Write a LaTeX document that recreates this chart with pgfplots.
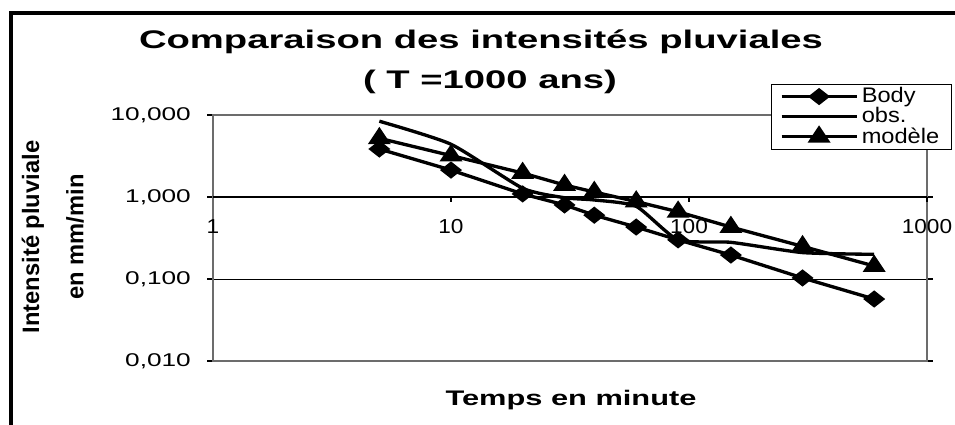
\documentclass[border=0pt]{standalone}
\usepackage{fontspec}
\setmainfont{Liberation Sans}
\usepackage{pgfplots}
\pgfplotsset{compat=1.18}
\usepackage{graphicx}
\newcommand{\wx}[1]{\scalebox{1.42}[1]{#1}}
\newcommand{\wl}[1]{\scalebox{1.12}[1]{#1}}
\newcommand{\wt}[1]{\scalebox{1.12}[1]{#1}}
\begin{document}
\begin{tikzpicture}
\path[use as bounding box] (0,0) rectangle (19.1,8.48);
\draw[line width=2.2pt, line cap=rect] (0.22,-1) -- (0.22,8.22) -- (20,8.22);
\begin{axis}[
  at={(4.26cm,1.26cm)}, anchor=south west,
  width=14.28cm, height=4.92cm, scale only axis,
  xmode=log, ymode=log,
  xmin=1, xmax=1000, ymin=0.01, ymax=10,
  axis line style={draw=gray!85!black, line width=1.1pt},
  xtick=\empty,
  ytick={0.01,0.1,1,10},
  yticklabels={{\wx{0,010}},{\wx{0,100}},{\wx{1,000}},{\wx{10,000}}},
  yticklabel style={font=\fontsize{10.5}{12}\selectfont, xshift=-0.2cm},
  tick align=outside, major tick length=0.12cm,
  tick style={black, line width=0.6pt},
  yminorticks=false, xminorticks=false,
  ymajorgrids, grid style={black, line width=0.5pt},
  clip=false,
  legend style={at={(1.035,1.126)}, anchor=north east, draw=black, line width=0.5pt,
    font=\fontsize{12}{12}\selectfont, inner xsep=5pt, inner ysep=1.5pt, row sep=0.6pt,
    nodes={inner ysep=0.3pt}, legend cell align=left},
  legend image code/.code={\draw[mark repeat=2,mark phase=2,#1] plot coordinates {(0cm,0cm) (0.75cm,0cm) (1.5cm,0cm)};},
  every axis plot/.append style={line width=1.9pt, black},
]
\addplot[mark=diamond*, mark size=3.7pt, mark options={solid, xscale=1.7}] coordinates {
(5,3.85) (10,2.13) (20,1.09) (30,0.80) (40,0.60) (60,0.43) (90,0.30) (150,0.196) (300,0.103) (600,0.057)};
\addlegendentry{\wl{Body}}
\addplot[smooth, tension=0.35, no marks] coordinates {
(5,8.4) (10,4.4) (20,1.28) (30,0.98) (40,0.92) (60,0.77) (90,0.30) (150,0.28) (300,0.21) (600,0.20)};
\addlegendentry{\wl{obs.}}
\addplot[mark=triangle*, mark size=4.8pt, mark options={solid, xscale=1.15}] coordinates {
(5,5.2) (10,3.2) (20,1.96) (30,1.40) (40,1.15) (60,0.88) (90,0.66) (150,0.43) (300,0.25) (600,0.144)};
\addlegendentry{\wl{modèle}}
\draw[black, line width=0.6pt] (axis cs:1,1) -- (axis cs:1000,1);
\draw[black, line width=0.6pt] (axis cs:10,1) -- ([yshift=-0.1cm]axis cs:10,1);
\draw[black, line width=0.6pt] (axis cs:100,1) -- ([yshift=-0.1cm]axis cs:100,1);
\draw[black, line width=0.6pt] (axis cs:1000,1) -- ([yshift=-0.1cm]axis cs:1000,1);
\node[font=\fontsize{11.5}{12}\selectfont] at ([yshift=-0.6cm]axis cs:1,1) {\wt{1}};
\node[font=\fontsize{11.5}{12}\selectfont] at ([yshift=-0.6cm]axis cs:10,1) {\wt{10}};
\node[font=\fontsize{11.5}{12}\selectfont] at ([yshift=-0.6cm]axis cs:100,1) {\wt{100}};
\node[font=\fontsize{11.5}{12}\selectfont] at ([yshift=-0.6cm]axis cs:1000,1) {\wt{1000}};
\end{axis}
\node[font=\fontsize{14.5}{16}\selectfont\bfseries] at (9.62,7.64) {\scalebox{1.5}[1]{Comparaison des intensités pluviales}};
\node[font=\fontsize{14.5}{16}\selectfont\bfseries] at (9.8,6.84) {\scalebox{1.5}[1]{( T =1000 ans)}};
\node[font=\fontsize{12}{14}\selectfont\bfseries] at (11.42,0.48) {\scalebox{1.46}[1]{Temps en minute}};
\node[rotate=90, font=\fontsize{13.5}{15}\selectfont\bfseries] at (0.66,3.74) {Intensité pluviale};
\node[rotate=90, font=\fontsize{13.5}{15}\selectfont\bfseries] at (1.5,3.74) {en mm/min};
\end{tikzpicture}
\end{document}
